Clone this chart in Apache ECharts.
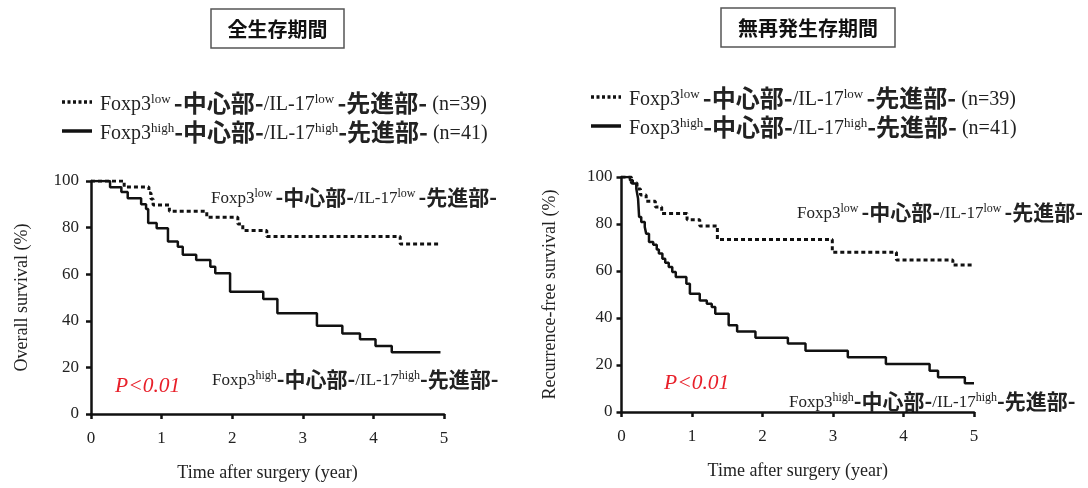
<!DOCTYPE html>
<html><head><meta charset="utf-8">
<script src="https://cdn.jsdelivr.net/npm/echarts@6/dist/echarts.min.js"></script>
<style>html,body{margin:0;padding:0;background:#fff}#c{width:1088px;height:488px}</style>
</head><body><div id="c"></div>
<script>
// ---- data ----
const xTicks = [0, 1, 2, 3, 4, 5];
const yTicks = [0, 20, 40, 60, 80, 100];

// Overall survival, Foxp3 low / IL-17 low (n=39)
const osLowTime = [0, 0.47, 0.82, 0.85, 0.88, 1.11, 1.64, 2.08, 2.15, 2.49, 4.38, 4.95];
const osLowSurv = [100, 97.4, 94.9, 92.3, 89.7, 87.0, 84.4, 81.5, 78.8, 76.2, 73.0, 73.0];
// Overall survival, Foxp3 high / IL-17 high (n=41)
const osHighTime = [0, 0.27, 0.43, 0.52, 0.71, 0.78, 0.81, 0.93, 1.09, 1.23, 1.30, 1.49, 1.69, 1.76, 1.97, 2.44, 2.64, 3.20, 3.56, 3.81, 4.03, 4.26, 4.95];
const osHighSurv = [100, 97.3, 95.3, 92.6, 90.0, 88.0, 82.0, 79.7, 74.0, 71.8, 68.3, 66.1, 63.2, 60.4, 52.5, 49.4, 43.2, 37.9, 34.6, 32.1, 29.2, 26.5, 26.5];

// Recurrence-free survival, low (n=39)
const rfsLowTime = [0, 0.14, 0.22, 0.27, 0.35, 0.48, 0.57, 0.93, 1.11, 1.36, 2.99, 3.90, 4.70, 5.0];
const rfsLowSurv = [100, 97.4, 94.9, 92.3, 89.7, 87.2, 84.5, 81.8, 79.2, 73.4, 68.0, 64.7, 62.6, 62.6];
// Recurrence-free survival, high (n=41)
const rfsHighTime = [0, 0.12, 0.16, 0.21, 0.235, 0.25, 0.28, 0.33, 0.35, 0.39, 0.45, 0.50, 0.53, 0.58, 0.62, 0.67, 0.72, 0.77, 0.92, 0.97, 1.11, 1.21, 1.28, 1.33, 1.52, 1.64, 1.90, 2.36, 2.61, 3.21, 3.75, 4.37, 4.49, 4.87, 5.0];
const rfsHighSurv = [100, 98.6, 97.2, 95.0, 90.8, 83.0, 80.9, 78.7, 75.9, 72.3, 71.2, 69.2, 67.4, 65.2, 63.5, 61.7, 59.6, 57.4, 54.6, 50.3, 47.5, 46.1, 44.7, 41.8, 36.9, 34.3, 31.6, 29.1, 26.1, 23.3, 20.4, 17.6, 14.8, 12.2, 12.2];

const titles = ['全生存期間', '無再発生存期間'];
const yNames = ['Overall survival (%)', 'Recurrence-free survival (%)'];
const xName = 'Time after surgery (year)';
const pText = 'P<0.01';

// ---- chart ----
const chart = echarts.init(document.getElementById('c'), null, {renderer: 'canvas'});
const pairs = (t, s) => t.map((v, i) => [v, s[i]]);
const SERIF = 'Liberation Serif';
const CJK = 'Noto Sans CJK JP';

function richLabel(kind, big) {
  const gap = kind === 'low' ? ' ' : '';
  return '{s|Foxp3}{u|' + kind + gap + '}{c|-中心部-}{s|/IL-17}{u|' + kind + gap + '}{c|-先進部-}' +
    (big ? '{s| (n=' + (kind === 'low' ? 39 : 41) + ')}' : '');
}
function richStyles(big) {
  const f = big ? 20 : 17;
  const fc = big ? 24 : 21;
  const lh = fc + 2;
  return {
    s: {fontFamily: SERIF, fontSize: f, fill: '#222', color: '#222', verticalAlign: 'bottom', lineHeight: lh},
    c: {fontFamily: CJK, fontSize: fc, fontWeight: 'bold', fill: '#222', color: '#222', verticalAlign: 'bottom', lineHeight: lh},
    u: {fontFamily: SERIF, fontSize: big ? 13 : 12, fill: '#222', color: '#222', verticalAlign: 'bottom',
        lineHeight: big ? 14 : 13, padding: [0, 0, big ? 9 : 8, 0]}
  };
}

const axisLineStyle = {color: '#111', width: 2.5};
function xAxisCfg(g, gap) {
  return {
    type: 'value', gridIndex: g, min: 0, max: 5, interval: 1,
    axisLine: {show: true, onZero: false, lineStyle: axisLineStyle},
    axisTick: {show: true, length: 5, lineStyle: axisLineStyle},
    splitLine: {show: false},
    axisLabel: {fontFamily: SERIF, fontSize: 17, color: '#222', margin: 16,
      formatter: v => xTicks.includes(v) ? String(v) : ''},
    name: xName, nameLocation: 'middle', nameGap: gap,
    nameTextStyle: {fontFamily: SERIF, fontSize: 18, color: '#222'}
  };
}
function yAxisCfg(g, name, margin, gap) {
  return {
    type: 'value', gridIndex: g, min: 0, max: 100, interval: 20,
    axisLine: {show: true, onZero: false, lineStyle: axisLineStyle},
    axisTick: {show: true, length: 5, lineStyle: axisLineStyle},
    splitLine: {show: false},
    axisLabel: {fontFamily: SERIF, fontSize: 17, color: '#222', margin: margin,
      formatter: v => yTicks.includes(v) ? String(v) : ''},
    name: name, nameLocation: 'middle', nameGap: gap,
    nameTextStyle: {fontFamily: SERIF, fontSize: 18, color: '#222'}
  };
}
function km(g, data, dashed) {
  return {
    type: 'line', xAxisIndex: g, yAxisIndex: g, step: 'end', symbol: 'none',
    data: data, silent: true,
    lineStyle: {color: '#111', width: dashed ? 3 : 2.5, type: dashed ? [4, 3] : 'solid'}
  };
}

function titleBox(x, y, w, h, text) {
  return [
    {type: 'rect', shape: {x: x, y: y, width: w, height: h}, style: {fill: '#fff', stroke: '#555', lineWidth: 1.5}},
    {type: 'text', x: x + w / 2, y: y + h / 2 + 1, style: {text: text, fontFamily: CJK, fontWeight: 'bold', fontSize: 20, fill: '#111', align: 'center', verticalAlign: 'middle'}}
  ];
}
function legendBlock(x0, y0) {
  return [
    {type: 'line', shape: {x1: x0, y1: y0, x2: x0 + 30, y2: y0}, style: {stroke: '#111', lineWidth: 3.5, lineDash: [3, 2.5]}},
    {type: 'line', shape: {x1: x0, y1: y0 + 29, x2: x0 + 30, y2: y0 + 29}, style: {stroke: '#111', lineWidth: 3.5}},
    {type: 'text', x: x0 + 38, y: y0, style: {text: richLabel('low', true), rich: richStyles(true), verticalAlign: 'middle'}},
    {type: 'text', x: x0 + 38, y: y0 + 29, style: {text: richLabel('high', true), rich: richStyles(true), verticalAlign: 'middle'}}
  ];
}
function annot(x, y, kind) {
  return {type: 'text', x: x, y: y, style: {text: richLabel(kind, false), rich: richStyles(false), verticalAlign: 'middle'}};
}
function pLabel(x, y) {
  return {type: 'text', x: x, y: y, style: {text: pText, fontFamily: SERIF, fontStyle: 'italic', fontSize: 21.5, fill: '#e8202a', verticalAlign: 'middle'}};
}

chart.setOption({
  animation: false,
  backgroundColor: '#fff',
  grid: [
    {left: 91, top: 181, width: 353, height: 233},
    {left: 621.5, top: 177, width: 352.5, height: 235}
  ],
  xAxis: [xAxisCfg(0, 50), xAxisCfg(1, 50)],
  yAxis: [yAxisCfg(0, yNames[0], 12, 60), yAxisCfg(1, yNames[1], 9, 62)],
  series: [
    km(0, pairs(osLowTime, osLowSurv), true),
    km(0, pairs(osHighTime, osHighSurv), false),
    km(1, pairs(rfsLowTime, rfsLowSurv), true),
    km(1, pairs(rfsHighTime, rfsHighSurv), false)
  ],
  graphic: [].concat(
    titleBox(211, 9, 133, 39, titles[0]),
    titleBox(721, 8, 174, 39, titles[1]),
    legendBlock(62, 102),
    legendBlock(591, 97),
    [annot(211, 196, 'low'), annot(212, 378, 'high'), annot(797, 211, 'low'), annot(789, 400, 'high'),
     pLabel(115, 386), pLabel(664, 383)]
  )
});
</script></body></html>
